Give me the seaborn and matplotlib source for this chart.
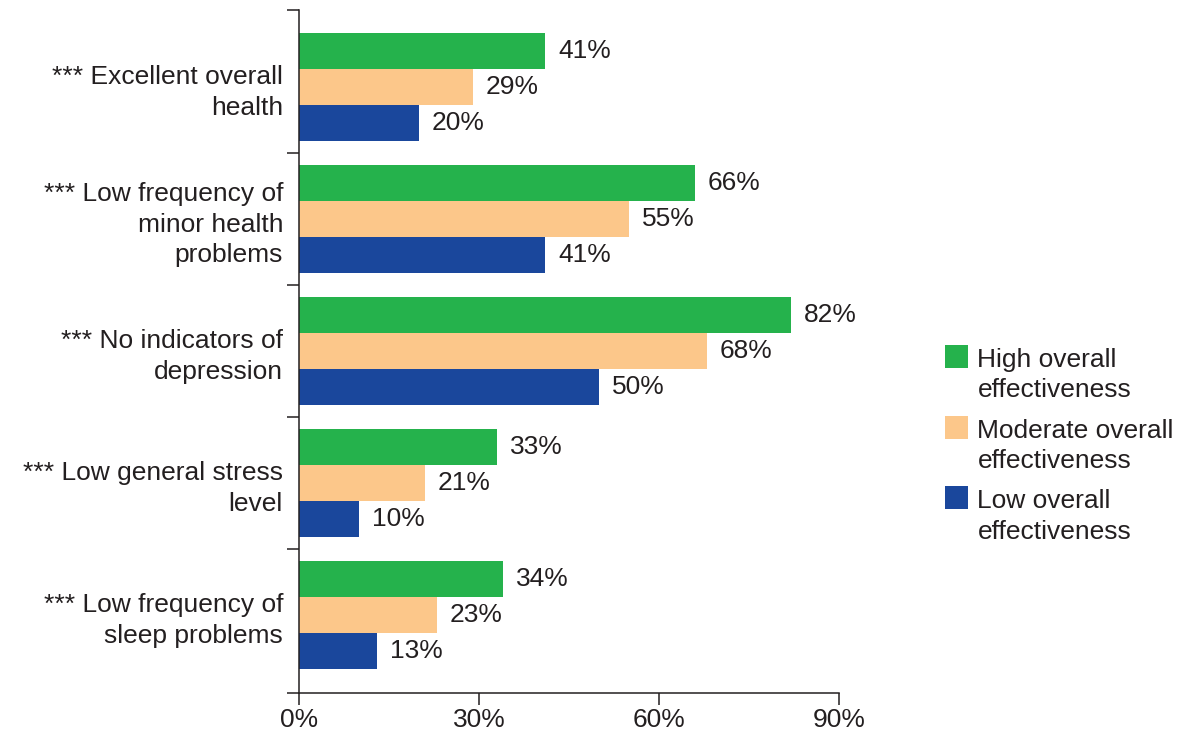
import matplotlib
matplotlib.use("Agg")
import matplotlib.pyplot as plt
import seaborn as sns
import pandas as pd
from matplotlib.patches import Rectangle
from matplotlib.legend_handler import HandlerPatch
from matplotlib.ticker import FixedLocator

categories = [
    "*** Excellent overall\nhealth",
    "*** Low frequency of\nminor health\nproblems",
    "*** No indicators of\ndepression",
    "*** Low general stress\nlevel",
    "*** Low frequency of\nsleep problems",
]
groups = [
    "High overall\neffectiveness",
    "Moderate overall\neffectiveness",
    "Low overall\neffectiveness",
]
high_values = [41, 66, 82, 33, 34]
moderate_values = [29, 55, 68, 21, 23]
low_values = [20, 41, 50, 10, 13]
x_ticks = [0, 30, 60, 90]
x_tick_labels = ["0%", "30%", "60%", "90%"]

colors = ["#25b24c", "#fcc78a", "#1a479c"]
text_color = "#231f20"
fs = 19
line_sp = 1.34

sns.set_theme(style="white")
plt.rcParams["font.family"] = ["Liberation Sans", "DejaVu Sans"]

rows = []
for g, vals in zip(groups, [high_values, moderate_values, low_values]):
    for c, v in zip(categories, vals):
        rows.append({"category": c, "group": g, "value": v})
df = pd.DataFrame(rows)

fig = plt.figure(figsize=(11.83, 7.32), dpi=100)
ax = fig.add_axes([299 / 1183, 1 - 693 / 732, (839 - 299) / 1183, (693 - 10) / 732])

sns.barplot(
    data=df, y="category", x="value", hue="group", orient="h",
    order=categories, hue_order=groups, palette=colors,
    width=0.818, saturation=1, ax=ax, legend=False, linewidth=0,
)

for cont in ax.containers:
    ax.bar_label(cont, labels=[f"{v:.0f}%" for v in cont.datavalues],
                 padding=9.3, fontsize=fs, color=text_color)

ax.set_xlim(0, 90)
ax.set_ylim(len(categories) - 1 + 0.591, -0.583)
ax.set_xlabel("")
ax.set_ylabel("")

ax.set_xticks(x_ticks)
ax.set_xticklabels(x_tick_labels)
ax.tick_params(axis="x", direction="out", length=8.6, width=1.1, color=text_color,
               labelsize=fs, labelcolor=text_color, pad=2, bottom=True)

ax.set_yticks(range(len(categories)))
ax.set_yticklabels(categories, linespacing=line_sp)
ax.yaxis.set_minor_locator(FixedLocator(
    [-0.583] + [i + 0.5 for i in range(len(categories) - 1)] + [len(categories) - 1 + 0.591]))
ax.tick_params(axis="y", which="major", length=0, pad=16 * 0.72,
               labelsize=fs, labelcolor=text_color, left=True)
ax.tick_params(axis="y", which="minor", length=8.6, width=1.1, color=text_color,
               left=True, direction="out")
ax.tick_params(axis="x", which="minor", bottom=False)

for side in ["top", "right"]:
    ax.spines[side].set_visible(False)
for side in ["left", "bottom"]:
    ax.spines[side].set_color(text_color)
    ax.spines[side].set_linewidth(1.1)


class TopSquare(HandlerPatch):
    """Legend swatch aligned with the first line of a two-line label."""
    def create_artists(self, legend, orig_handle, xdescent, ydescent,
                       width, height, fontsize, trans):
        s = width
        top = 1.50 * fontsize
        p = Rectangle((-xdescent, top - s), s, s,
                      facecolor=orig_handle.get_facecolor(), edgecolor="none",
                      transform=trans)
        return [p]


handles = [Rectangle((0, 0), 1, 1, facecolor=c) for c in colors]
leg = fig.legend(
    handles, groups, loc="upper left",
    bbox_to_anchor=(945 / 1183, 1 - 348 / 732),
    frameon=False, fontsize=fs, handlelength=0.88, handleheight=0.88,
    handletextpad=0.35, labelspacing=0.61, borderpad=0, borderaxespad=0,
    handler_map={Rectangle: TopSquare()},
)
for t in leg.get_texts():
    t.set_color(text_color)
    t.set_linespacing(line_sp)

fig.savefig("out.png", dpi=100)
